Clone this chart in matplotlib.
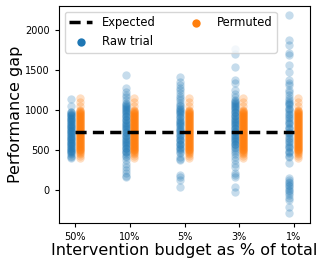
import numpy as np
import matplotlib
matplotlib.use("Agg")
import matplotlib.pyplot as plt

budgets = ["50%", "10%", "5%", "3%", "1%"]
expected = 720

# Raw trial values per budget
raw_50 = [1137, 1050, 980, 970, 958, 950, 942, 935, 920, 912, 905, 890, 882, 875, 860,
          852, 845, 830, 822, 815, 800, 792, 785, 770, 762, 755, 740, 732, 725, 710,
          702, 695, 680, 672, 665, 650, 642, 635, 620, 612, 605, 590, 582, 575, 560,
          552, 545, 530, 522, 515, 500, 492, 485, 470, 462, 455, 430, 410, 400]
raw_10 = [1437, 1270, 1225, 1190, 1160, 1120, 1090, 1070, 1060, 1050, 1040, 1030, 1010,
          1000, 990, 970, 960, 950, 930, 920, 910, 890, 880, 870, 850, 840, 830, 810,
          800, 790, 770, 760, 750, 730, 720, 710, 690, 680, 670, 650, 640, 630, 610,
          600, 590, 570, 560, 550, 530, 520, 510, 490, 480, 470, 450, 430, 412, 375,
          330, 290, 250, 212, 180, 162]
raw_5 = [1408, 1354, 1312, 1280, 1250, 1210, 1180, 1150, 1120, 1090, 1060, 1045, 1030,
         1010, 1000, 990, 975, 960, 945, 930, 915, 900, 880, 860, 850, 840, 820, 810,
         800, 780, 760, 750, 740, 720, 700, 690, 680, 660, 640, 630, 620, 600, 580,
         570, 560, 540, 520, 510, 500, 480, 460, 412, 390, 375, 187, 160, 125, 42]
raw_3 = [1760, 1700, 1541, 1375, 1337, 1250, 1200, 1160, 1125, 1110, 1100, 1090, 1080,
         1060, 1050, 1040, 1020, 1010, 1000, 980, 970, 960, 940, 930, 920, 900, 890,
         880, 860, 850, 840, 820, 810, 800, 780, 770, 760, 740, 730, 720, 700, 690,
         680, 660, 650, 640, 620, 610, 600, 580, 570, 560, 540, 520, 500, 480, 450,
         416, 375, 330, 290, 210, 185, 160, 42, -20]
raw_1 = [2180, 1875, 1812, 1708, 1687, 1562, 1479, 1375, 1340, 1312, 1250, 1220, 1187,
         1150, 1120, 1105, 1090, 1075, 1060, 1030, 1015, 1000, 970, 955, 940, 910,
         895, 880, 850, 835, 820, 790, 775, 760, 730, 715, 700, 670, 655, 640, 610,
         595, 580, 550, 535, 520, 490, 475, 460, 430, 412, 333, 150, 120, 100, 90,
         60, 45, 30, 0, -15, -30, -60, -100, -125, -208, -291]

# Permuted values per budget
perm_50 = [1150, 1100, 1050, 1000, 990, 982, 975, 968, 960, 952, 945, 938, 930, 922,
           915, 908, 900, 892, 885, 878, 870, 862, 855, 848, 840, 832, 825, 818, 810,
           802, 795, 788, 780, 772, 765, 758, 750, 742, 735, 728, 720, 712, 705, 698,
           690, 682, 675, 668, 660, 652, 645, 638, 630, 622, 615, 608, 600, 592, 585,
           578, 570, 562, 555, 548, 540, 532, 525, 518, 510, 502, 495, 488, 480, 465,
           450, 425, 400]
perm_10 = list(perm_50)
perm_5 = list(perm_50)
perm_3 = list(perm_50)
perm_1 = list(perm_50)

raw = [raw_50, raw_10, raw_5, raw_3, raw_1]
perm = [perm_50, perm_10, perm_5, perm_3, perm_1]

fig = plt.figure(figsize=(3.24, 2.67), dpi=100)
ax = fig.add_axes([0.182, 0.165, 0.775, 0.813])

x = np.arange(len(budgets))
for i in x:
    ax.scatter(np.full(len(raw[i]), i - 0.08), raw[i], s=36, color="tab:blue",
               alpha=0.25, linewidths=0, label="Raw trial" if i == 0 else None)
    ax.scatter(np.full(len(perm[i]), i + 0.08), perm[i], s=36, color="tab:orange",
               alpha=0.25, linewidths=0, label="Permuted" if i == 0 else None)

ax.plot([x[0], x[-1]], [expected, expected], color="black", lw=2.5,
        linestyle=(0, (3.2, 1.8)), label="Expected", zorder=3)

ax.set_xticks(x)
ax.set_xticklabels(budgets)
ax.set_xlim(-0.3, 4.3)
ax.set_ylim(-410, 2300)
ax.set_yticks([0, 500, 1000, 1500, 2000])
ax.tick_params(labelsize=7, length=3)
ax.set_xlabel("Intervention budget as % of total", fontsize=11.5, labelpad=1)
ax.set_ylabel("Performance gap", fontsize=11.5, labelpad=2)

h, l = ax.get_legend_handles_labels()
order = [2, 0, 1]
leg = ax.legend([h[k] for k in order], [l[k] for k in order], loc="upper left",
                ncol=2, fontsize=8.3, scatterpoints=1, columnspacing=2.5)
for lh in leg.legend_handles:
    lh.set_alpha(1)

fig.savefig("out.png", dpi=100)
